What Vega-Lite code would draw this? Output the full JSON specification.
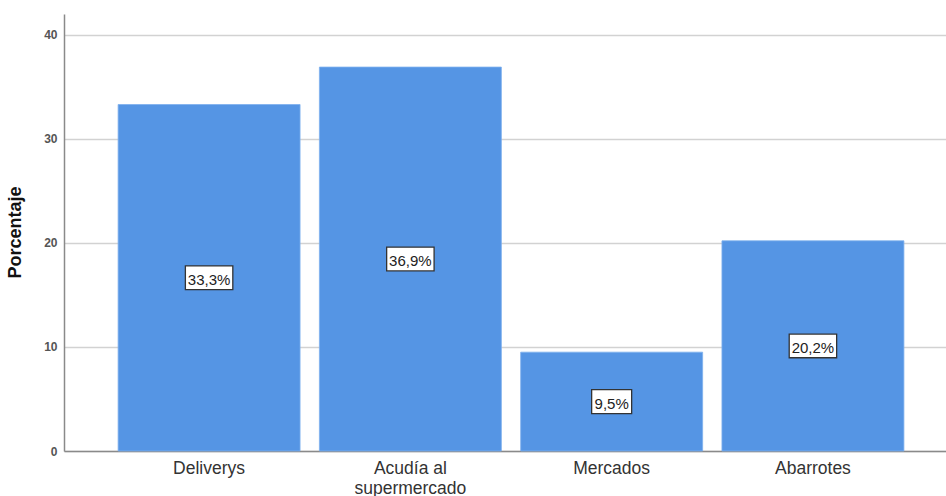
{
  "$schema": "https://vega.github.io/schema/vega-lite/v6.json",
  "autosize": {"type": "none"},
  "width": 882,
  "height": 437,
  "padding": {"left": 64, "top": 14, "right": 0, "bottom": 45},
  "background": "white",
  "data": {
    "values": [
      {"categoria": "Deliverys", "porcentaje": 33.3},
      {"categoria": "Acudía al supermercado", "porcentaje": 36.9},
      {"categoria": "Mercados", "porcentaje": 9.5},
      {"categoria": "Abarrotes", "porcentaje": 20.2}
    ]
  },
  "transform": [
    {"calculate": "datum.porcentaje / 2", "as": "mitad"},
    {"calculate": "replace(format(datum.porcentaje, '.1f'), '.', ',') + '%'", "as": "etiqueta"}
  ],
  "encoding": {
    "x": {
      "field": "categoria",
      "type": "nominal",
      "sort": null,
      "scale": {"paddingInner": 0.096, "paddingOuter": 0.239, "align": 0.5625},
      "axis": {
        "title": null,
        "labelAngle": 0,
        "labelFont": "Liberation Sans",
        "labelFontSize": 17.5,
        "labelColor": "#333333",
        "labelPadding": 8,
        "labelLineHeight": 20,
        "ticks": false,
        "domainColor": "#8a8a8a",
        "domainWidth": 1.5,
        "labelExpr": "datum.label == 'Acudía al supermercado' ? ['Acudía al', 'supermercado'] : datum.label"
      }
    }
  },
  "layer": [
    {
      "mark": {"type": "bar", "color": "#5595e4", "stroke": "#7eb0ee", "strokeWidth": 0.8},
      "encoding": {
        "y": {
          "field": "porcentaje",
          "type": "quantitative",
          "scale": {"domain": [0, 42], "nice": false},
          "axis": {
            "title": "Porcentaje",
            "titleFont": "Liberation Sans",
            "titleFontSize": 18,
            "titleFontWeight": "bold",
            "titleColor": "#111111",
            "titleX": -40,
            "titleY": 218,
            "values": [0, 10, 20, 30, 40],
            "labelFont": "Liberation Sans",
            "labelFontSize": 12,
            "labelFontWeight": "bold",
            "labelColor": "#555555",
            "labelPadding": 7,
            "ticks": false,
            "grid": true,
            "gridColor": "#d2d2d2",
            "gridWidth": 1.5,
            "domainColor": "#8a8a8a",
            "domainWidth": 1.5
          }
        }
      }
    },
    {
      "mark": {"type": "point", "filled": true, "fill": "white", "stroke": "#333333", "strokeWidth": 1.3, "opacity": 1, "dy": 3},
      "encoding": {
        "y": {"field": "mitad", "type": "quantitative"},
        "shape": {
          "condition": {"test": "datum.porcentaje < 10", "value": "M-1,-0.6L1,-0.6L1,0.6L-1,0.6Z"},
          "value": "M-1,-0.5L1,-0.5L1,0.5L-1,0.5Z"
        },
        "size": {
          "condition": {"test": "datum.porcentaje < 10", "value": 1600},
          "value": 2250
        }
      }
    },
    {
      "mark": {"type": "text", "font": "Liberation Sans", "fontSize": 15, "color": "#222222", "dy": 2, "baseline": "middle"},
      "encoding": {
        "y": {"field": "mitad", "type": "quantitative"},
        "text": {"field": "etiqueta"}
      }
    }
  ],
  "config": {"view": {"stroke": null}}
}
